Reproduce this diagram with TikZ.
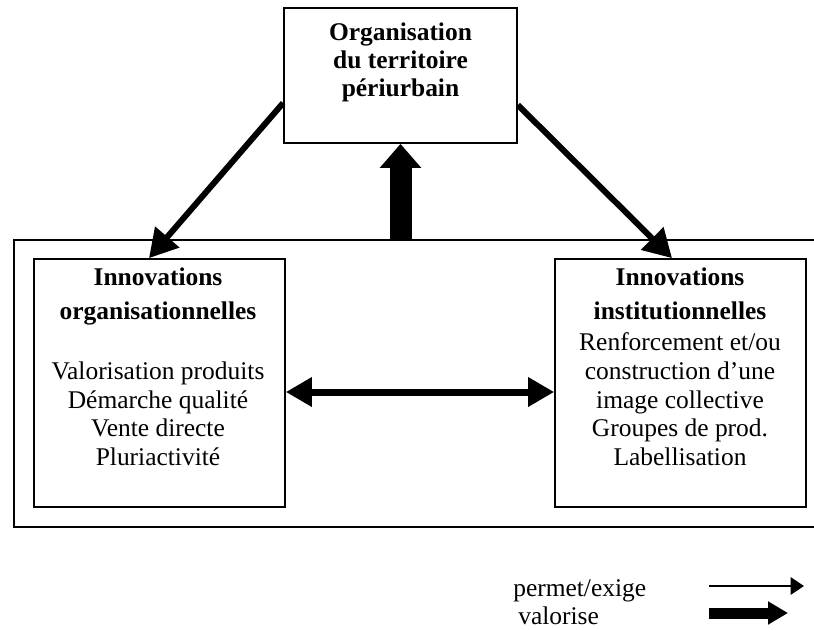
\documentclass[tikz,border=0pt]{standalone}
\usepackage{fontspec}
\setmainfont{Liberation Serif}
\usetikzlibrary{arrows.meta}
\begin{document}
\begin{tikzpicture}[x=0.75pt,y=-0.75pt,
  boxst/.style={draw,line width=1.3pt,rectangle,inner sep=0pt},
  txt/.style={align=center,inner sep=0pt,font=\fontsize{19.1pt}{21.5pt}\selectfont},
  ttxt/.style={align=center,inner sep=0pt,font=\fontsize{19.1pt}{21pt}\selectfont\bfseries},
  diag/.style={line width=4.5pt,-{Triangle[length=21pt,width=23pt]}},
  upar/.style={line width=16.5pt,-{Triangle[length=18pt,width=30pt]}},
  dbl/.style={line width=5.25pt,{Triangle[length=19.5pt,width=21pt]}-{Triangle[length=19.5pt,width=21pt]}},
  thinar/.style={line width=1.5pt,-{Triangle[length=10pt,width=13pt]}},
  thickar/.style={line width=8.25pt,-{Triangle[length=15pt,width=16.5pt]}}]
\useasboundingbox (0,0) rectangle (814,629);
\clip (0,0) rectangle (814,629);
% boxes
\node[boxst,minimum width=174.75pt,minimum height=101.25pt] (top) at (400.5,75.5) {};
\node[boxst,minimum width=612pt,minimum height=215.25pt] (frame) at (422,383.5) {};
\node[boxst,minimum width=188.25pt,minimum height=186pt] (left) at (159.5,383) {};
\node[boxst,minimum width=188.25pt,minimum height=186pt] (right) at (680.5,383) {};
% texts (base anchor = baseline of the last line)
\node[ttxt,anchor=base] (toptext) at (400.5,96.7) {Organisation\\du territoire\\périurbain};
\node[txt,anchor=base] (lefttext) at (158,465.5) {\textbf{Innovations}\\[4pt]\textbf{organisationnelles}\\[23.5pt]Valorisation produits\\Démarche qualité\\Vente directe\\Pluriactivité};
\node[txt,anchor=base] (righttext) at (680,465.5) {\textbf{Innovations}\\[4pt]\textbf{institutionnelles}\\[1.75pt]Renforcement et/ou\\construction d’une\\image collective\\Groupes de prod.\\Labellisation};
% connectors
\draw[diag] (top.west |- 0,103) -- (149,0 |- left.north);
\draw[diag] (top.east |- 0,105) -- (672,0 |- right.north);
\draw[upar] (frame.north -| top.south) -- (top.south);
\draw[dbl] (left.east |- 0,392) -- (right.west |- 0,392);
% legend
\node[txt,anchor=base west] (lg1) at (513,596) {permet/exige};
\node[txt,anchor=base west] (lg2) at (518,624) {valorise};
\coordinate (l1s) at (709,586);
\coordinate (l1e) at (804,586);
\coordinate (l2s) at (709,613);
\coordinate (l2e) at (788,613);
\draw[thinar] (l1s) -- (l1e);
\draw[thickar] (l2s) -- (l2e);
\end{tikzpicture}
\end{document}
